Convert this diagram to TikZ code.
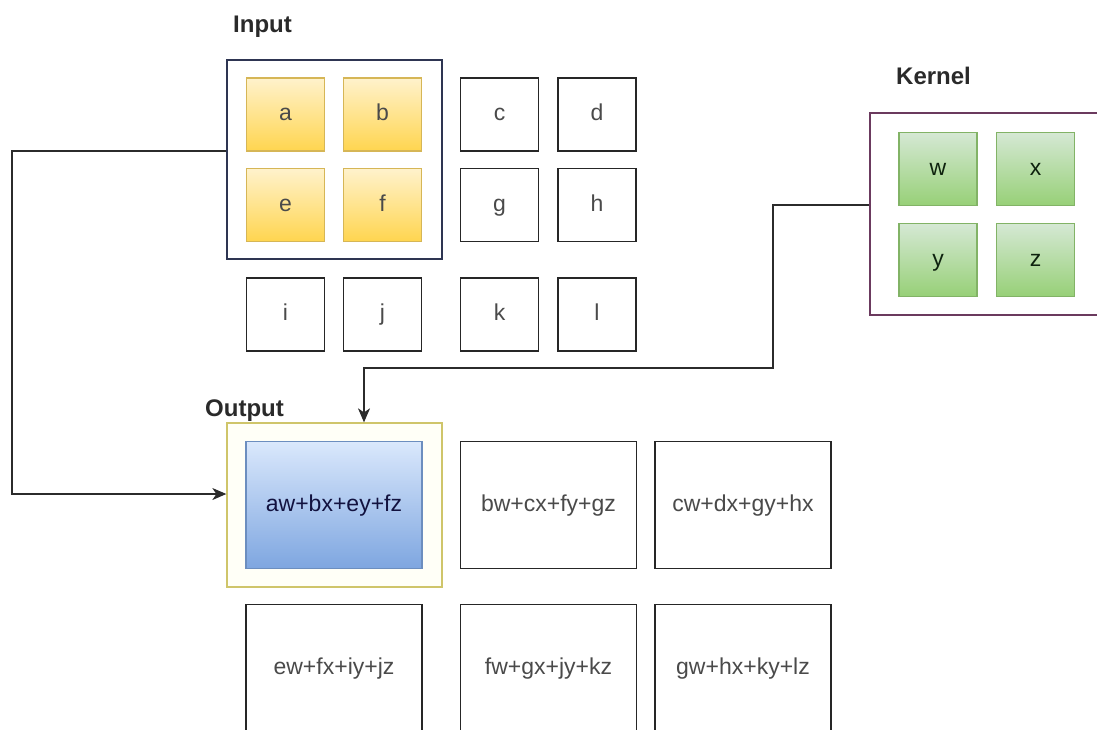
\documentclass[tikz,border=0pt]{standalone}
\usepackage{fontspec}
\setmainfont{Liberation Sans}
\usetikzlibrary{arrows.meta}
\definecolor{txt}{HTML}{4A4A4A}
\definecolor{lbl}{HTML}{2A2A2A}
\definecolor{yelTop}{HTML}{FFF2CC}
\definecolor{yelBot}{HTML}{FFD54F}
\definecolor{yelLine}{HTML}{D6B656}
\definecolor{grnTop}{HTML}{D5E8D4}
\definecolor{grnBot}{HTML}{97D077}
\definecolor{grnLine}{HTML}{82B366}
\definecolor{bluTop}{HTML}{DAE8FC}
\definecolor{bluBot}{HTML}{7EA6E0}
\definecolor{bluLine}{HTML}{6C8EBF}
\definecolor{inLine}{HTML}{2E3552}
\definecolor{kerLine}{HTML}{6B3A5E}
\definecolor{outLine}{HTML}{CFC56A}
\definecolor{wire}{HTML}{2B2B2B}
\tikzset{
  cellbox/.style={draw=black!85, line width=1.3pt, fill=white, minimum width=78pt, minimum height=73pt, inner sep=0pt, text height=16pt, text depth=4pt, font=\fontsize{23}{26}\selectfont, text=txt},
  ycell/.style={cellbox, draw=yelLine, top color=yelTop, bottom color=yelBot},
  gcell/.style={cellbox, draw=grnLine, top color=grnTop, bottom color=grnBot, text=lbl!80!green!40!black},
  bigcell/.style={cellbox, minimum width=176pt, minimum height=127pt},
  frame/.style={line width=1.3pt, inner sep=0pt},
  lab/.style={font=\fontsize{24}{28}\selectfont\bfseries, text=lbl, anchor=base west, inner sep=0pt},
  wireline/.style={draw=wire, line width=1.3pt, -{Stealth[length=14pt,width=12pt,inset=4pt]}},
}
\begin{document}
\begin{tikzpicture}[x=1pt,y=-1pt]
\useasboundingbox (0,0) rectangle (1097,729);
\clip (0,0) rectangle (1097,729);
% frames
\node[frame, draw=inLine, fill=white, minimum width=215pt, minimum height=199pt] (inF) at (334.5,159.5) {};
\node[frame, draw=kerLine, fill=white, minimum width=236pt, minimum height=202pt] (kerF) at (988,214) {};
\node[frame, draw=outLine, fill=yellow!3, minimum width=215pt, minimum height=164pt] (outF) at (334.5,505) {};
% labels
\node[lab] (inL) at (233,32) {Input};
\node[lab] (kerL) at (896,84) {Kernel};
\node[lab] (outL) at (205,416) {Output};
% input cells
\node[ycell] (a) at (285.5,114.5) {a};
\node[ycell] (b) at (382.5,114.5) {b};
\node[cellbox] (c) at (499.5,114.5) {c};
\node[cellbox] (d) at (597,114.5) {d};
\node[ycell] (e) at (285.5,205) {e};
\node[ycell] (f) at (382.5,205) {f};
\node[cellbox] (g) at (499.5,205) {g};
\node[cellbox] (h) at (597,205) {h};
\node[cellbox] (i) at (285.5,314.5) {i};
\node[cellbox] (j) at (382.5,314.5) {j};
\node[cellbox] (k) at (499.5,314.5) {k};
\node[cellbox] (l) at (597,314.5) {l};
% kernel cells
\node[gcell] (w) at (938,169) {w};
\node[gcell] (x) at (1035.5,169) {x};
\node[gcell] (y) at (938,260) {y};
\node[gcell] (z) at (1035.5,260) {z};
% output cells
\node[bigcell, draw=bluLine, top color=bluTop, bottom color=bluBot, text=lbl!70!blue!60!black] (o1) at (334,505) {aw+bx+ey+fz};
\node[bigcell] (o2) at (548.5,505) {bw+cx+fy+gz};
\node[bigcell] (o3) at (743,505) {cw+dx+gy+hx};
\node[bigcell] (o4) at (334,668) {ew+fx+iy+jz};
\node[bigcell] (o5) at (548.5,668) {fw+gx+jy+kz};
\node[bigcell] (o6) at (743,668) {gw+hx+ky+lz};
% connectors
\coordinate (p1) at (12,151);
\coordinate (p2) at (12,494);
\draw[wireline] (inF.west |- p1) -- (p1) -- (p2) -- (outF.west |- p2);
\coordinate (q1) at (773,205);
\coordinate (q2) at (773,368);
\coordinate (q3) at (364,368);
\draw[wireline] (kerF.west |- q1) -- (q1) -- (q2) -- (q3) -- (q3 |- outF.north);
\end{tikzpicture}
\end{document}
